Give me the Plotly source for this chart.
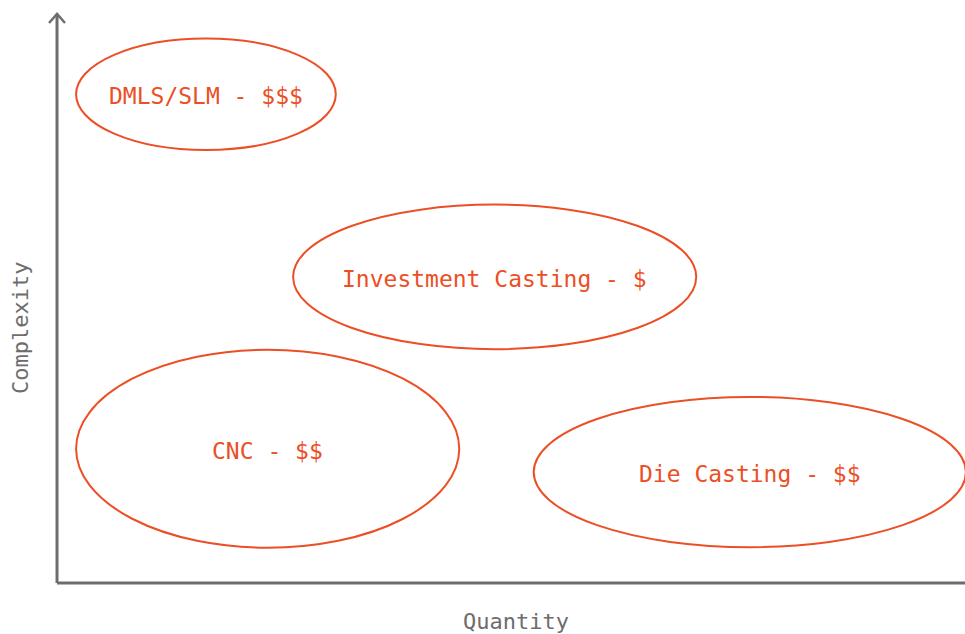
import plotly.graph_objects as go

# Data (in axis units: Quantity 0-100, Complexity 0-100)
labels = ["DMLS/SLM - $$$", "Investment Casting - $", "CNC - $$", "Die Casting - $$"]
center_x = [16.4, 48.2, 23.2, 76.3]
center_y = [85.9, 53.8, 23.6, 19.5]
radius_x = [14.3, 22.2, 21.1, 23.8]
radius_y = [9.8, 12.7, 17.4, 13.2]

x_title = "Quantity"
y_title = "Complexity"

ORANGE = "#EC4F25"
GREY = "#6d6d6d"
FONT = "DejaVu Sans Mono"

fig = go.Figure()

# invisible anchor trace at ellipse centres
fig.add_trace(go.Scatter(
    x=center_x, y=center_y, mode="markers",
    marker=dict(size=1, opacity=0),
    hoverinfo="skip", showlegend=False,
))

shapes = []
for cx, cy, rx, ry in zip(center_x, center_y, radius_x, radius_y):
    shapes.append(dict(type="circle", xref="x", yref="y",
                       x0=cx - rx, x1=cx + rx, y0=cy - ry, y1=cy + ry,
                       line=dict(color=ORANGE, width=2), fillcolor="rgba(0,0,0,0)"))

# axes lines
shapes.append(dict(type="line", xref="x", yref="y", x0=0, x1=100.2, y0=0, y1=0,
                   line=dict(color=GREY, width=3)))
shapes.append(dict(type="line", xref="x", yref="y", x0=0, x1=0, y0=0, y1=100,
                   line=dict(color=GREY, width=3)))
# arrow head (open chevron) at top of y axis
shapes.append(dict(type="path", xref="x", yref="y", xsizemode="pixel", ysizemode="pixel",
                   xanchor=0, yanchor=100,
                   path="M -8,-9 L 0,0 L 8,-9",
                   line=dict(color=GREY, width=2.5)))

annotations = [
    dict(text=t, x=cx, y=cy, xref="x", yref="y", showarrow=False, yshift=-2,
         font=dict(family=FONT, size=23, color=ORANGE))
    for t, cx, cy in zip(labels, center_x, center_y)
]
annotations += [
    dict(text=x_title, x=50.5, y=-6.7, xref="x", yref="y", showarrow=False,
         font=dict(family=FONT, size=22, color=GREY)),
    dict(text=y_title, x=-4.1, y=44.8, xref="x", yref="y", showarrow=False,
         textangle=-90, font=dict(family=FONT, size=22, color=GREY)),
]

fig.update_layout(
    width=965, height=634,
    margin=dict(l=0, r=0, t=0, b=0),
    paper_bgcolor="white", plot_bgcolor="white",
    shapes=shapes,
    annotations=annotations,
    xaxis=dict(range=[-6.28, 100.0], visible=False, fixedrange=True),
    yaxis=dict(range=[-8.96, 102.46], visible=False, fixedrange=True),
)

fig.write_html("out.html", config={"displayModeBar": False},
               post_script="document.body.style.margin='0';document.body.style.overflow='hidden';")
